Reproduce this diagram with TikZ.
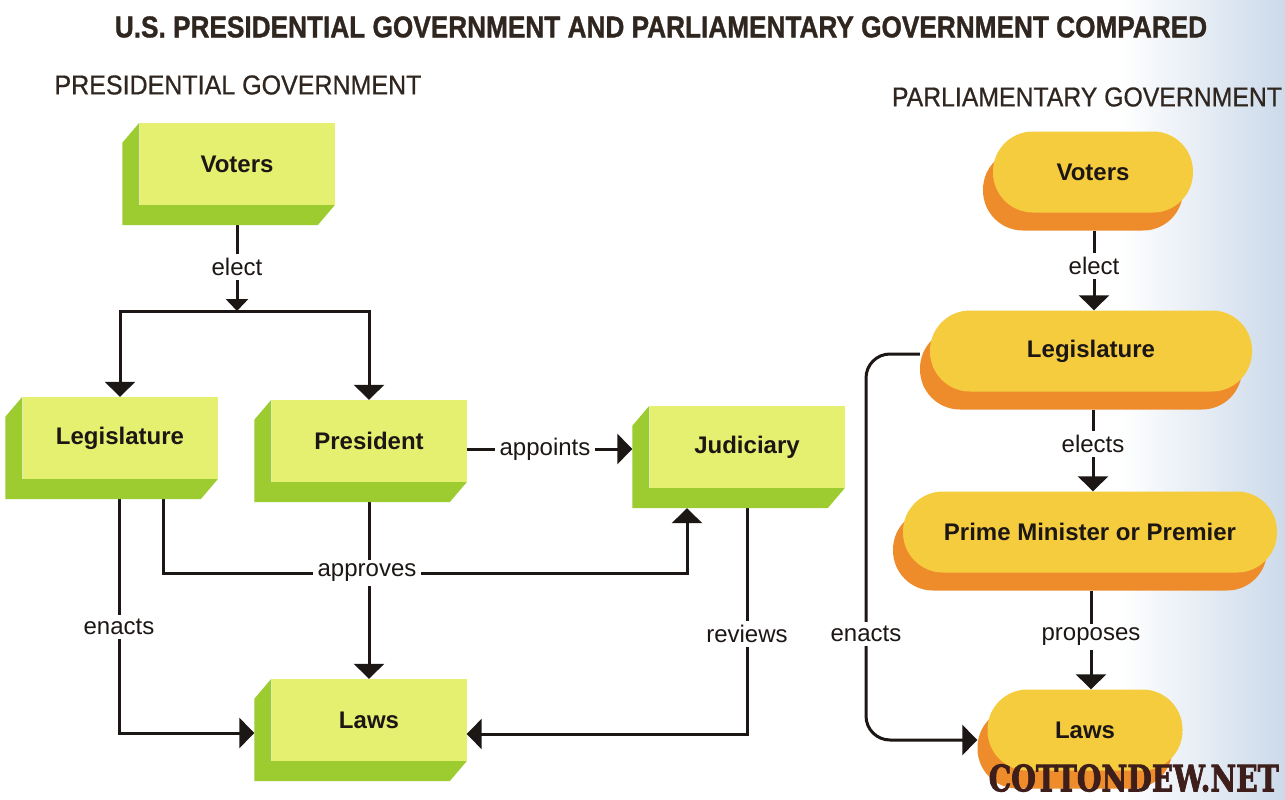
\documentclass[tikz,border=0pt]{standalone}
\usepackage{fontspec}
\setmainfont{Liberation Sans}
\newfontfamily\headfont[FakeBold=1.2]{Liberation Sans}
\newfontfamily\subfont[FakeBold=0.7]{Liberation Sans}
\newfontfamily\markfont[FakeBold=2.5]{DejaVu Serif}
\usetikzlibrary{arrows.meta,calc,shadows}

\begin{document}
\begin{tikzpicture}[x=1pt,y=-1pt,
    gbox/.style={fill=gface, minimum width=195pt, minimum height=82pt, inner sep=0pt,
        font=\fontsize{24}{28}\selectfont\bfseries, text=ink},
    pill/.style={fill=pface, rounded corners=40pt, minimum height=81pt, inner sep=0pt,
        font=\fontsize{24}{28}\selectfont\bfseries, text=ink,
        general shadow={fill=pshade, shadow xshift=-10pt, shadow yshift=-18pt}},
    lbl/.style={font=\fontsize{24}{28}\selectfont, text=ink, inner sep=4pt},
    link/.style={line width=3pt, draw=ink},
    arr/.style={link, -{Triangle[width=30pt,length=15pt]}},
    sarr/.style={link, -{Triangle[width=22pt,length=12pt]}}]

    % colours
    \definecolor{gface}{RGB}{230,240,112}
    \definecolor{gside}{RGB}{156,204,48}
    \definecolor{pface}{RGB}{244,204,62}
    \definecolor{pshade}{RGB}{238,140,44}
    \definecolor{ink}{RGB}{28,22,20}
    \definecolor{head}{RGB}{48,38,32}
    \definecolor{markink}{RGB}{62,30,26}
    \definecolor{paper}{RGB}{204,218,234}

    % page
    \useasboundingbox (0,0) rectangle (1285,800);
    \fill[white] (0,0) rectangle (1285,800);
    \shade[left color=white, right color=paper] (1120,0) rectangle (1285,800);

    % headings
    \node[text=head, inner sep=0pt] (title) at (661,27)
        {\resizebox{1092pt}{21pt}{\headfont\bfseries U.S. PRESIDENTIAL GOVERNMENT AND PARLIAMENTARY GOVERNMENT COMPARED}};
    \node[text=head, inner sep=0pt] (ptitle) at (238,85)
        {\resizebox{367pt}{19pt}{\subfont PRESIDENTIAL GOVERNMENT}};
    \node[text=head, inner sep=0pt] (qtitle) at (1087,97)
        {\resizebox{390pt}{19pt}{\subfont PARLIAMENTARY GOVERNMENT}};

    % presidential boxes
    \node[gbox] (pvoters) at (237,164) {Voters};
    \node[gbox] (plegis) at (120,438) {Legislature};
    \node[gbox] (ppres) at (369,441) {President};
    \node[gbox] (pjudic) at (747,447) {Judiciary};
    \node[gbox] (plaws) at (369,720) {Laws};

    % presidential labels
    \node[lbl] (pelect) at (237,267) {elect};
    \coordinate (pbar) at (237,311);
    \node[lbl] (pappoints) at (545,449) {appoints};
    \node[lbl] (papproves) at (367,573) {approves};
    \node[lbl] (penacts) at (119,627) {enacts};
    \node[lbl] (previews) at (747,634) {reviews};

    % presidential connectors
    \draw[link] ($(pvoters.south)+(0,-20pt)$) -- (pelect);
    \draw[sarr] (pelect) -- (pbar);
    \draw[arr] (pbar) -| (plegis);
    \draw[arr] (pbar) -| (ppres);
    \draw[link] (ppres.east |- pappoints) -- (pappoints);
    \draw[arr] (pappoints) -- ($(pjudic.west |- pappoints)+(-17pt,0)$);
    \draw[link] ($(plegis.south)+(43pt,-20pt)$) |- (papproves);
    \draw[arr] (papproves) -| ($(pjudic.south)+(-60pt,-20pt)$);
    \draw[link] ($(ppres.south)+(0,-20pt)$) -- (ppres.south |- papproves.north);
    \draw[arr] (ppres.south |- papproves.south) -- (plaws.north);
    \draw[link] ($(penacts |- plegis.south)+(0,-20pt)$) -- (penacts);
    \draw[arr] (penacts) |- ($(plaws.west)+(-17pt,-13pt)$);
    \draw[link] ($(pjudic.south)+(0,-20pt)$) -- (previews);
    \draw[arr] (previews) |- ($(plaws.east)+(0,-14pt)$);

    % box depth
    \foreach \b in {pvoters,plegis,ppres,pjudic,plaws}
        \fill[gside] (\b.north west) -- ++(-17pt,-20pt)
            -- ([shift={(-17pt,-20pt)}]\b.south west)
            -- ([shift={(-17pt,-20pt)}]\b.south east)
            -- (\b.south east) -- (\b.south west) -- cycle;

    % parliamentary pills
    \node[pill, minimum width=200pt] (qvoters) at (1093,172) {Voters};
    \node[pill, minimum width=322pt] (qlegis) at (1091,351) {Legislature};
    \node[pill, minimum width=374pt] (qprime) at (1090,532) {Prime Minister or Premier};
    \node[pill, minimum width=195pt] (qlaws) at (1085,730) {Laws};

    % parliamentary labels
    \node[lbl] (qelect) at (1094,266) {elect};
    \node[lbl] (qelects) at (1093,444) {elects};
    \node[lbl] (qproposes) at (1091,637) {proposes};
    \node[lbl] (qenacts) at (866,634) {enacts};

    % parliamentary connectors
    \draw[link] ($(qelect |- qvoters.south)+(0,-18pt)$) -- (qelect);
    \draw[arr] (qelect) -- (qelect |- qlegis.north);
    \draw[link] ($(qelects |- qlegis.south)+(0,-18pt)$) -- (qelects);
    \draw[arr] (qelects) -- (qelects |- qprime.north);
    \draw[link] ($(qproposes |- qprime.south)+(0,-18pt)$) -- (qproposes);
    \draw[arr] (qproposes) -- (qproposes |- qlaws.north);
    \draw[link, rounded corners=24pt] ($(qlegis.west)+(-10pt,-3pt)$) -| (qenacts);
    \draw[arr, rounded corners=24pt] (qenacts) |- ($(qlaws.west)+(-10pt,-10pt)$);

    % watermark
    \node[font=\markfont\bfseries, text=markink, inner sep=0pt, anchor=south east] (mark) at (1279,792)
        {\resizebox{290pt}{27pt}{COTTONDEW.NET}};
\end{tikzpicture}
\end{document}
